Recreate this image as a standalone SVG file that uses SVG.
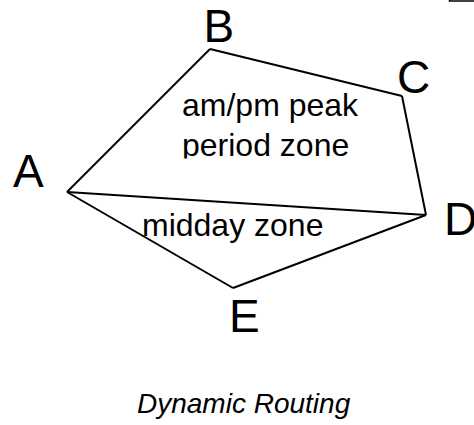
<svg xmlns="http://www.w3.org/2000/svg" width="474" height="425" viewBox="0 0 474 425">
<style>
.edge{stroke:#000;stroke-width:2;fill:none;stroke-linejoin:miter}
.lbl{font-family:"Liberation Sans",Arial,sans-serif;font-size:46px;fill:#000}
.zone{font-family:"Liberation Sans",Arial,sans-serif;font-size:32px;fill:#000}
.title{font-family:"Liberation Sans",Arial,sans-serif;font-size:28px;font-style:italic;fill:#000}
</style>
<defs>
<clipPath id="zclip"><rect x="170" y="80" width="200" height="78.5"/></clipPath>
</defs>
<rect x="449.5" y="-20" width="40" height="21" fill="#fff" stroke="#000" stroke-width="1.5"/>
<g id="connectors">
<line class="edge" x1="67" y1="192" x2="210" y2="49"/>
<line class="edge" x1="210" y1="49" x2="402" y2="96"/>
<line class="edge" x1="402" y1="96" x2="426" y2="215"/>
<line class="edge" x1="426" y1="215" x2="233" y2="288"/>
<line class="edge" x1="233" y1="288" x2="67" y2="192"/>
<line class="edge" x1="67" y1="192" x2="426" y2="215"/>
</g>
<g id="node-A"><text class="lbl" x="13" y="187">A</text></g>
<g id="node-B"><text class="lbl" x="203.5" y="42">B</text></g>
<g id="node-C"><text class="lbl" x="397" y="93">C</text></g>
<g id="node-D"><text class="lbl" x="444" y="235">D</text></g>
<g id="node-E"><text class="lbl" x="229" y="331.5">E</text></g>
<g id="zone-peak" clip-path="url(#zclip)">
<text class="zone" x="182" y="116">am/pm peak</text>
<text class="zone" x="182" y="156">period zone</text>
</g>
<g id="zone-midday"><text class="zone" x="142" y="236">midday zone</text></g>
<g id="title"><text class="title" x="137" y="413">Dynamic Routing</text></g>
</svg>
